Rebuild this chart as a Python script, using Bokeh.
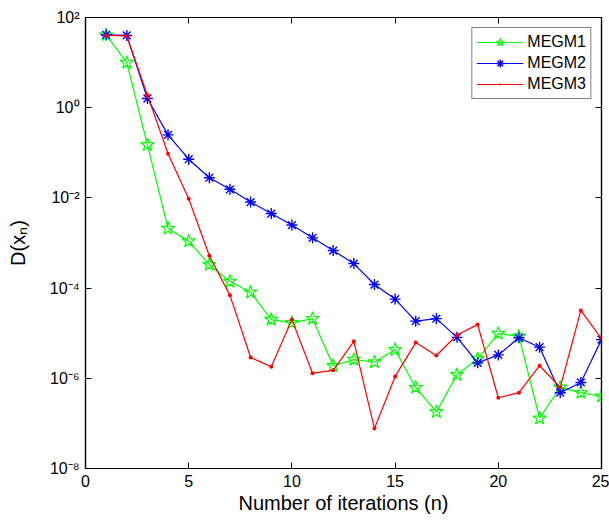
from bokeh.plotting import figure
from bokeh.models import (LogAxis, LinearAxis, CustomJSTickFormatter, FixedTicker,
                          Legend, LegendItem, Range1d)
from bokeh.embed import file_html
from bokeh.resources import INLINE

iters = list(range(1, 26))
megm1 = [41, 10, 0.15, 2.1e-3, 1.1e-3, 3.3e-4, 1.4e-4, 8.1e-5, 2.0e-5, 1.7e-5,
         2.1e-5, 1.9e-6, 2.6e-6, 2.3e-6, 4.3e-6, 6.2e-7, 1.8e-7, 1.2e-6, 2.7e-6, 9.8e-6,
         8.5e-6, 1.3e-7, 6.3e-7, 4.8e-7, 4.0e-7]
megm2 = [41, 40, 1.6, 0.25, 0.072, 0.028, 0.0155, 8.1e-3, 4.5e-3, 2.5e-3,
         1.3e-3, 6.8e-4, 3.5e-4, 1.2e-4, 5.7e-5, 1.85e-5, 2.1e-5, 8.1e-6, 2.2e-6, 3.3e-6,
         7.9e-6, 4.9e-6, 4.8e-7, 8.1e-7, 7.2e-6]
megm3 = [40, 39, 1.9, 0.095, 9.6e-3, 5.2e-4, 6.9e-5, 2.9e-6, 1.8e-6, 2.0e-5,
         1.3e-6, 1.5e-6, 6.6e-6, 7.7e-8, 1.1e-6, 6.2e-6, 3.2e-6, 9.1e-6, 1.55e-5, 3.7e-7,
         4.8e-7, 1.9e-6, 6.3e-7, 3.2e-5, 7.6e-6]
x_ticks = [0, 5, 10, 15, 20, 25]
y_ticks = [1e-8, 1e-6, 1e-4, 1e-2, 1e0, 1e2]

FONT = "Liberation Sans"

p = figure(width=609, height=528, y_axis_type="log",
           x_range=Range1d(0, 25), y_range=Range1d(1e-8, 1e2),
           output_backend="svg", toolbar_location=None,
           min_border_left=85, min_border_top=17, min_border_right=8, min_border_bottom=60)
p.xgrid.visible = False
p.ygrid.visible = False
p.outline_line_color = "black"
p.outline_line_width = 1.2
p.background_fill_color = "white"
p.border_fill_color = "white"

sup_fmt = CustomJSTickFormatter(code="""
const sup = {'-':'\u207b','0':'\u2070','1':'\u00b9','2':'\u00b2','3':'\u00b3','4':'\u2074',
             '5':'\u2075','6':'\u2076','7':'\u2077','8':'\u2078','9':'\u2079'};
const e = Math.round(Math.log10(tick)).toString();
return '10' + e.split('').map(c => sup[c]).join('');
""")
blank = CustomJSTickFormatter(code="return '';")

for ax in (p.xaxis[0], p.yaxis[0]):
    ax.major_tick_in = 6
    ax.major_tick_out = 0
    ax.minor_tick_in = 0
    ax.minor_tick_out = 0
    ax.axis_line_color = "black"
    ax.axis_line_width = 1.2
    ax.major_tick_line_color = "black"
    ax.major_label_text_font = FONT
    ax.major_label_text_color = "black"
    ax.major_label_text_font_size = "16px"
    ax.axis_label_text_font = FONT
    ax.axis_label_text_font_style = "normal"
    ax.axis_label_text_font_size = "20px"
    ax.axis_label_text_color = "black"

p.xaxis[0].ticker = FixedTicker(ticks=x_ticks)
p.xaxis[0].major_label_standoff = 6
p.xaxis[0].axis_label = "Number of iterations (n)"
p.xaxis[0].axis_label_standoff = 2

p.yaxis[0].ticker = FixedTicker(ticks=y_ticks)
p.yaxis[0].formatter = sup_fmt
p.yaxis[0].major_label_standoff = 6
p.yaxis[0].axis_label = "D(x\u2099)"
p.yaxis[0].axis_label_standoff = 18

top = LinearAxis(ticker=FixedTicker(ticks=x_ticks), formatter=blank)
right = LogAxis(ticker=FixedTicker(ticks=y_ticks), formatter=blank)
for ax in (top, right):
    ax.major_tick_in = 6
    ax.major_tick_out = 0
    ax.minor_tick_in = 0
    ax.minor_tick_out = 0
    ax.major_label_text_font_size = "0px"
    ax.major_label_standoff = 0
    ax.axis_line_color = "black"
    ax.axis_line_width = 1.2
p.add_layout(top, "above")
p.add_layout(right, "right")

g_line = p.line(iters, megm1, line_color="#00ff00", line_width=1.2)
g_mark = p.scatter(iters, megm1, marker="star", size=14, fill_color=None,
                   line_color="#00ff00", line_width=1.2)
b_line = p.line(iters, megm2, line_color="#0000ff", line_width=1.2)
b_mark = p.scatter(iters, megm2, marker="asterisk", size=11,
                   line_color="#0000ff", line_width=1.4)
r_line = p.line(iters, megm3, line_color="#ff0000", line_width=1.2)
r_mark = p.scatter(iters, megm3, marker="dot", size=16,
                   fill_color="#ff0000", line_color="#ff0000")

legend = Legend(items=[
    LegendItem(label="MEGM1", renderers=[g_line, g_mark]),
    LegendItem(label="MEGM2", renderers=[b_line, b_mark]),
    LegendItem(label="MEGM3", renderers=[r_line, r_mark]),
], location="top_right")
legend.margin = 10
legend.padding = 4
legend.spacing = 1
legend.glyph_width = 47
legend.glyph_height = 20
legend.label_height = 20
legend.label_standoff = 4
legend.label_text_font = FONT
legend.label_text_font_size = "16px"
legend.label_text_color = "black"
legend.border_line_color = "black"
legend.border_line_width = 1.5
legend.background_fill_alpha = 1.0
p.add_layout(legend)

open("out.html", "w").write(file_html(p, INLINE))
